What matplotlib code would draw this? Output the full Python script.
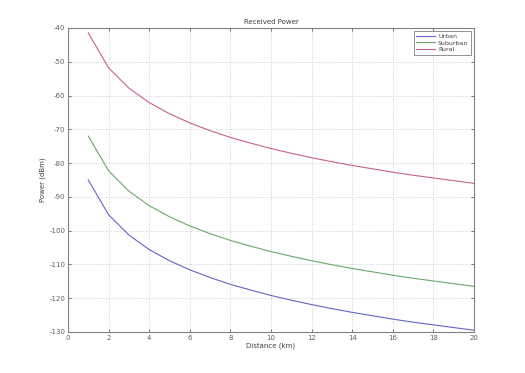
import matplotlib
matplotlib.use("Agg")
import matplotlib.pyplot as plt

plt.rcParams["axes.unicode_minus"] = False

distance_km = [1, 2, 3, 4, 5, 6, 7, 8, 9, 10, 11, 12, 13, 14, 15, 16, 17, 18, 19, 20]
urban = [-85.0, -95.3, -101.3, -105.6, -108.9, -111.6, -113.9, -115.9, -117.6, -119.2,
         -120.6, -121.9, -123.1, -124.2, -125.2, -126.2, -127.1, -127.9, -128.7, -129.5]
suburban = [-72.0, -82.3, -88.3, -92.6, -95.9, -98.6, -100.9, -102.9, -104.6, -106.2,
            -107.6, -108.9, -110.1, -111.2, -112.2, -113.2, -114.1, -114.9, -115.7, -116.5]
rural = [-41.5, -51.8, -57.8, -62.1, -65.4, -68.1, -70.4, -72.4, -74.1, -75.7,
         -77.1, -78.4, -79.6, -80.7, -81.7, -82.7, -83.6, -84.4, -85.2, -86.0]
series_labels = ["Urban", "Suburban", "Rural"]
x_ticks = [0, 2, 4, 6, 8, 10, 12, 14, 16, 18, 20]
y_ticks = [-130, -120, -110, -100, -90, -80, -70, -60, -50, -40]

fig = plt.figure(figsize=(5.25, 3.73), dpi=100)
ax = fig.add_axes([0.1295, 0.110, 0.7735, 0.815])

colors = ["#6464c8", "#6aa86a", "#c86478"]
for ys, lab, c in zip([urban, suburban, rural], series_labels, colors):
    ax.plot(distance_km, ys, color=c, lw=0.8, label=lab)

ax.set_xlim(0, 20)
ax.set_ylim(-130, -40)
ax.set_xticks(x_ticks)
ax.set_yticks(y_ticks)
ax.grid(True, linestyle=(0, (1, 2)), color="#c0c0c0", lw=0.6)
ax.tick_params(direction="in", length=2.5, width=0.6, labelsize=5, colors="#606060",
               top=True, right=True, pad=2)
for s in ax.spines.values():
    s.set_color("#808080")
    s.set_linewidth(0.8)

ax.set_title("Received Power", fontsize=5, color="#404040", pad=3)
ax.set_xlabel("Distance (km)", fontsize=5, color="#404040", labelpad=1)
ax.set_ylabel("Power (dBm)", fontsize=5, color="#404040", labelpad=2)

leg = ax.legend(loc="upper right", fontsize=4.5, frameon=True, fancybox=False,
                handlelength=3, borderpad=0.4, labelspacing=0.2, handletextpad=0.5)
leg.get_frame().set_edgecolor("#606060")
leg.get_frame().set_linewidth(0.6)
for t in leg.get_texts():
    t.set_color("#404040")

fig.savefig("out.png", dpi=100)
